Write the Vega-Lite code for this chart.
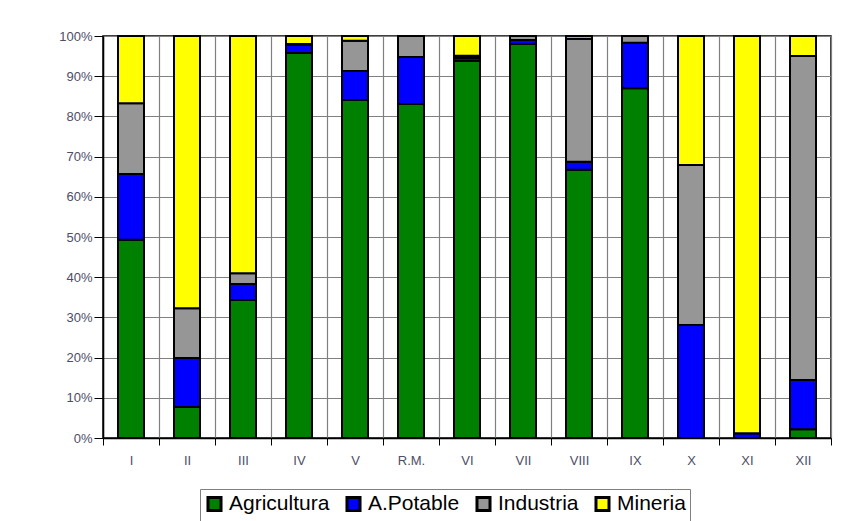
{
  "$schema": "https://vega.github.io/schema/vega-lite/v6.json",
  "width": 728,
  "height": 402,
  "autosize": "none",
  "padding": {"left": 103, "top": 36, "right": 29, "bottom": 83},
  "background": "white",
  "config": {
    "font": "Liberation Sans",
    "view": {"stroke": "#000000", "strokeWidth": 1.5}
  },
  "data": {
    "values": [
      {"region": "I", "uso": "Agricultura", "pct": 49.3},
      {"region": "I", "uso": "A.Potable", "pct": 16.4},
      {"region": "I", "uso": "Industria", "pct": 17.6},
      {"region": "I", "uso": "Mineria", "pct": 16.7},
      {"region": "II", "uso": "Agricultura", "pct": 7.7},
      {"region": "II", "uso": "A.Potable", "pct": 12.2},
      {"region": "II", "uso": "Industria", "pct": 12.4},
      {"region": "II", "uso": "Mineria", "pct": 67.7},
      {"region": "III", "uso": "Agricultura", "pct": 34.3},
      {"region": "III", "uso": "A.Potable", "pct": 4.0},
      {"region": "III", "uso": "Industria", "pct": 2.7},
      {"region": "III", "uso": "Mineria", "pct": 59.0},
      {"region": "IV", "uso": "Agricultura", "pct": 95.8},
      {"region": "IV", "uso": "A.Potable", "pct": 2.0},
      {"region": "IV", "uso": "Industria", "pct": 0.2},
      {"region": "IV", "uso": "Mineria", "pct": 2.0},
      {"region": "V", "uso": "Agricultura", "pct": 84.1},
      {"region": "V", "uso": "A.Potable", "pct": 7.2},
      {"region": "V", "uso": "Industria", "pct": 7.5},
      {"region": "V", "uso": "Mineria", "pct": 1.2},
      {"region": "R.M.", "uso": "Agricultura", "pct": 83.1},
      {"region": "R.M.", "uso": "A.Potable", "pct": 11.7},
      {"region": "R.M.", "uso": "Industria", "pct": 5.2},
      {"region": "R.M.", "uso": "Mineria", "pct": 0.0},
      {"region": "VI", "uso": "Agricultura", "pct": 93.8},
      {"region": "VI", "uso": "A.Potable", "pct": 0.8},
      {"region": "VI", "uso": "Industria", "pct": 0.5},
      {"region": "VI", "uso": "Mineria", "pct": 4.9},
      {"region": "VII", "uso": "Agricultura", "pct": 98.0},
      {"region": "VII", "uso": "A.Potable", "pct": 1.0},
      {"region": "VII", "uso": "Industria", "pct": 1.0},
      {"region": "VII", "uso": "Mineria", "pct": 0.0},
      {"region": "VIII", "uso": "Agricultura", "pct": 66.7},
      {"region": "VIII", "uso": "A.Potable", "pct": 2.0},
      {"region": "VIII", "uso": "Industria", "pct": 30.6},
      {"region": "VIII", "uso": "Mineria", "pct": 0.7},
      {"region": "IX", "uso": "Agricultura", "pct": 87.0},
      {"region": "IX", "uso": "A.Potable", "pct": 11.3},
      {"region": "IX", "uso": "Industria", "pct": 1.7},
      {"region": "IX", "uso": "Mineria", "pct": 0.0},
      {"region": "X", "uso": "Agricultura", "pct": 0.0},
      {"region": "X", "uso": "A.Potable", "pct": 28.1},
      {"region": "X", "uso": "Industria", "pct": 39.8},
      {"region": "X", "uso": "Mineria", "pct": 32.1},
      {"region": "XI", "uso": "Agricultura", "pct": 0.0},
      {"region": "XI", "uso": "A.Potable", "pct": 1.2},
      {"region": "XI", "uso": "Industria", "pct": 0.0},
      {"region": "XI", "uso": "Mineria", "pct": 98.8},
      {"region": "XII", "uso": "Agricultura", "pct": 2.2},
      {"region": "XII", "uso": "A.Potable", "pct": 12.2},
      {"region": "XII", "uso": "Industria", "pct": 80.6},
      {"region": "XII", "uso": "Mineria", "pct": 5.0}
    ]
  },
  "transform": [
    {"calculate": "indexof(['Agricultura','A.Potable','Industria','Mineria'], datum.uso)", "as": "orden"}
  ],
  "mark": {"type": "bar", "size": 26, "stroke": "#000000", "strokeWidth": 2, "strokeOpacity": 1},
  "encoding": {
    "x": {
      "field": "region",
      "type": "nominal",
      "sort": ["I", "II", "III", "IV", "V", "R.M.", "VI", "VII", "VIII", "IX", "X", "XI", "XII"],
      "scale": {"paddingInner": 0, "paddingOuter": 0},
      "axis": {
        "title": null,
        "labelAngle": 0,
        "labelFontSize": 13,
        "labelColor": "#4d4d66",
        "labelPadding": 9,
        "tickBand": "extent",
        "tickColor": "#000000",
        "tickSize": 7,
        "domainColor": "#000000",
        "domainWidth": 1.5,
        "grid": true,
        "gridColor": "#808080",
        "gridWidth": 1.2
      }
    },
    "y": {
      "field": "pct",
      "type": "quantitative",
      "stack": "normalize",
      "scale": {"domain": [0, 1]},
      "axis": {
        "title": null,
        "format": ".0%",
        "values": [0, 0.1, 0.2, 0.3, 0.4, 0.5, 0.6, 0.7, 0.8, 0.9, 1],
        "labelFontSize": 13,
        "labelColor": "#4d4d66",
        "tickColor": "#000000",
        "tickSize": 9,
        "domainColor": "#000000",
        "domainWidth": 1.5,
        "gridColor": "#808080",
        "gridWidth": 1.2
      }
    },
    "color": {
      "field": "uso",
      "type": "nominal",
      "scale": {
        "domain": ["Agricultura", "A.Potable", "Industria", "Mineria"],
        "range": ["#008000", "#0000ff", "#969696", "#ffff00"]
      },
      "legend": {
        "title": null,
        "orient": "none",
        "legendX": 97,
        "legendY": 453,
        "direction": "horizontal",
        "columns": 4,
        "symbolType": "square",
        "symbolSize": 170,
        "symbolStrokeColor": "#000000",
        "symbolStrokeWidth": 3,
        "symbolOpacity": 1,
        "labelFontSize": 21,
        "labelColor": "#000000",
        "labelOffset": 4,
        "columnPadding": 10,
        "padding": 4,
        "strokeColor": "#808080",
        "fillColor": "#ffffff"
      }
    },
    "order": {"field": "orden", "type": "quantitative"}
  }
}
